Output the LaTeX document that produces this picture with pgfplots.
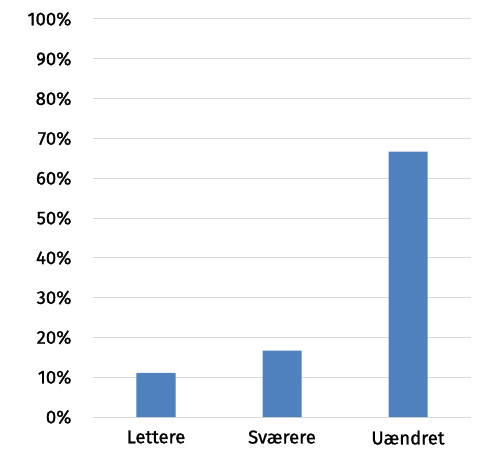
\documentclass[border=0pt]{standalone}
\usepackage{pgfplots}
\pgfplotsset{compat=1.18}
\usepackage{fontspec}
\setmainfont{Fira Sans}
\newfontfamily\tickfont{Fira Sans}[FakeBold=1.2]
\definecolor{barblue}{HTML}{4F81BD}
\definecolor{gridgray}{HTML}{D9D9D9}
\begin{document}
\begin{tikzpicture}
\begin{axis}[
  scale only axis,
  width=378bp, height=398bp,
  xmin=-0.5, xmax=2.5,
  ymin=0, ymax=100,
  ytick={0,10,...,100},
  yticklabel={\pgfmathprintnumber{\tick}\%},
  xtick={0,1,2},
  xticklabels={Lettere,Sværere,Uændret},
  axis line style={draw=none},
  major tick length=0pt,
  ymajorgrids,
  grid style={gridgray, line width=1pt},
  tick label style={font=\tickfont\fontsize{18.5bp}{22bp}\selectfont},
  /pgf/number format/assume math mode=true,
  yticklabel style={xshift=-18bp},
  xticklabel style={yshift=-10bp},
  clip=false,
]
\addplot[ybar, bar width=39bp, fill=barblue, draw=none] coordinates {(0,11.11) (1,16.67) (2,66.67)};
\path (rel axis cs:0,0) ++(-93bp,-40bp) coordinate (bl);
\path (rel axis cs:1,1) ++(6bp,19bp) coordinate (tr);
\path (bl) rectangle (tr);
\end{axis}
\end{tikzpicture}
\end{document}
